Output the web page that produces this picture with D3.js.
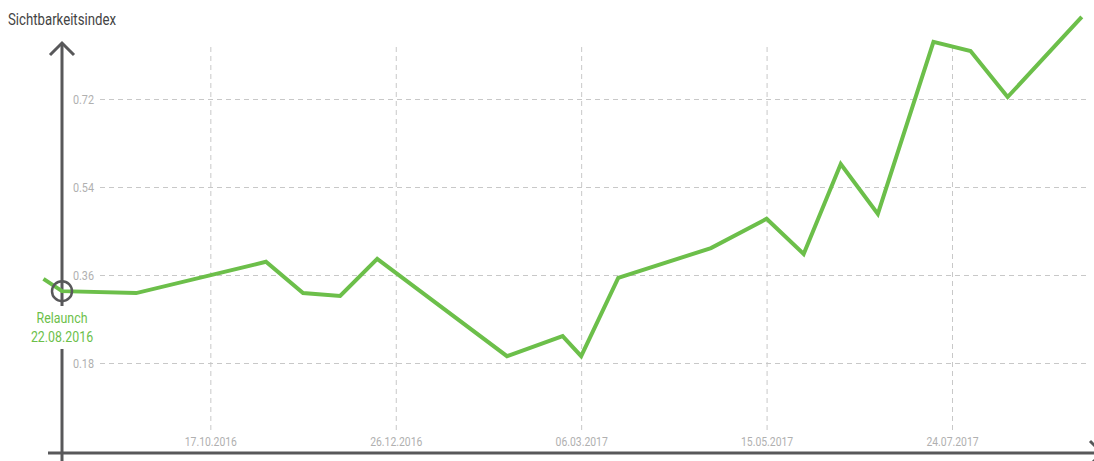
<!DOCTYPE html>
<html>
<head>
<meta charset="utf-8">
<script src="https://cdn.jsdelivr.net/npm/d3@7"></script>
<style>
  body { margin: 0; background: #fff; }
  svg text { font-family: "Roboto", sans-serif; }
</style>
</head>
<body>
<div class="chart-container"></div>
<script>
var width = 1094;
var height = 461;
var squeeze = 0.8; // narrow look of the original font

// weekly index values
var dates = ['15.08.2016', '22.08.2016', '19.09.2016', '07.11.2016', '21.11.2016', '05.12.2016',
  '19.12.2016', '06.02.2017', '27.02.2017', '06.03.2017', '20.03.2017', '24.04.2017',
  '15.05.2017', '29.05.2017', '12.06.2017', '26.06.2017', '17.07.2017', '31.07.2017',
  '14.08.2017', '11.09.2017'];
var values = [0.352, 0.327, 0.323, 0.387, 0.323, 0.317, 0.393, 0.194, 0.235, 0.194,
  0.354, 0.415, 0.475, 0.403, 0.587, 0.485, 0.837, 0.818, 0.724, 0.888];

var xTicks = ['17.10.2016', '26.12.2016', '06.03.2017', '15.05.2017', '24.07.2017'];
var yTicks = [0.18, 0.36, 0.54, 0.72];
var relaunchDate = '22.08.2016';

var parse = d3.timeParse('%d.%m.%Y');
var fmt = d3.timeFormat('%d.%m.%Y');

var svg = d3.select('.chart-container')
  .append('svg')
  .attr('width', width)
  .attr('height', height);

var xScale = d3.scaleTime()
  .domain([parse(relaunchDate), parse('24.07.2017')])
  .range([62, 952]);

var yScale = d3.scaleLinear()
  .domain([0, 0.72])
  .range([451, 99]);

// narrow text placed at x,y
function label(x, y, txt, size, color, anchor) {
  return svg.append('text')
    .attr('transform', 'translate(' + x + ',' + y + ') scale(' + squeeze + ',1)')
    .attr('text-anchor', anchor || 'start')
    .attr('fill', color)
    .style('font-size', size + 'px')
    .text(txt);
}

// Horizontal grid + y labels
var yAxis = d3.axisLeft(yScale)
  .tickValues(yTicks)
  .tickSize(-988)
  .tickPadding(7)
  .tickFormat(d3.format('.2f'));

var gy = svg.append('g')
  .attr('transform', 'translate(100,0)')
  .call(yAxis);
gy.select('.domain').remove();
gy.selectAll('line')
  .attr('stroke', '#c8c8c8')
  .attr('stroke-dasharray', '5,4');
gy.selectAll('text')
  .attr('x', -6 / squeeze)
  .attr('transform', 'scale(' + squeeze + ',1)')
  .attr('fill', '#b0b0b0')
  .style('font-size', '13.5px');

// Vertical grid + x labels
var xAxis = d3.axisBottom(xScale)
  .tickValues(xTicks.map(parse))
  .tickSize(-385)
  .tickPadding(7)
  .tickFormat(fmt);

var gx = svg.append('g')
  .attr('transform', 'translate(0,430)')
  .call(xAxis);
gx.select('.domain').remove();
gx.selectAll('line')
  .attr('stroke', '#c8c8c8')
  .attr('stroke-dasharray', '5,4');
gx.selectAll('text')
  .attr('transform', 'scale(' + squeeze + ',1)')
  .attr('fill', '#b0b0b0')
  .style('font-size', '13px');

// Axis lines
var axisColor = '#58585a';
var x0 = xScale(parse(relaunchDate));

svg.append('line')
  .attr('x1', x0).attr('x2', x0)
  .attr('y1', 43).attr('y2', 306)
  .attr('stroke', axisColor).attr('stroke-width', 3);
svg.append('line')
  .attr('x1', x0).attr('x2', x0)
  .attr('y1', 349).attr('y2', height)
  .attr('stroke', axisColor).attr('stroke-width', 3);
svg.append('path')
  .attr('d', 'M' + (x0 - 12) + ',55L' + x0 + ',43L' + (x0 + 12) + ',55')
  .attr('fill', 'none')
  .attr('stroke', axisColor).attr('stroke-width', 3);

svg.append('line')
  .attr('x1', 48).attr('x2', width)
  .attr('y1', 453).attr('y2', 453)
  .attr('stroke', axisColor).attr('stroke-width', 3);
svg.append('path')
  .attr('d', 'M1090,441L1102,453L1090,465')
  .attr('fill', 'none')
  .attr('stroke', axisColor).attr('stroke-width', 3);

label(8, 25, 'Sichtbarkeitsindex', 16.5, '#444');

// Line
var line = d3.line()
  .x(function (d, i) { return xScale(parse(dates[i])); })
  .y(function (d) { return yScale(d); });

svg.append('path')
  .datum(values)
  .attr('d', line)
  .attr('fill', 'none')
  .attr('stroke', '#6cbf4a')
  .attr('stroke-width', 4)
  .attr('stroke-linejoin', 'miter');

// Relaunch marker
var relaunchIdx = dates.indexOf(relaunchDate);
svg.append('circle')
  .attr('cx', x0)
  .attr('cy', yScale(values[relaunchIdx]))
  .attr('r', 10)
  .attr('fill', 'none')
  .attr('stroke', axisColor)
  .attr('stroke-width', 2.5);

label(x0, 323, 'Relaunch', 15.5, '#6cbf4a', 'middle');
label(x0, 342, relaunchDate, 15.5, '#6cbf4a', 'middle');
</script>
</body>
</html>
